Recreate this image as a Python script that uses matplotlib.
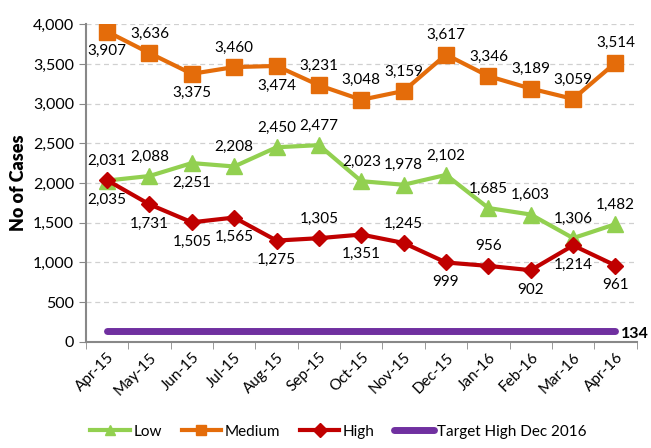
import matplotlib
matplotlib.use("Agg")
import matplotlib.pyplot as plt
import numpy as np

months = ["Apr-15", "May-15", "Jun-15", "Jul-15", "Aug-15", "Sep-15", "Oct-15",
          "Nov-15", "Dec-15", "Jan-16", "Feb-16", "Mar-16", "Apr-16"]
low = [2031, 2088, 2251, 2208, 2450, 2477, 2023, 1978, 2102, 1685, 1603, 1306, 1482]
medium = [3907, 3636, 3375, 3460, 3474, 3231, 3048, 3159, 3617, 3346, 3189, 3059, 3514]
high = [2035, 1731, 1505, 1565, 1275, 1305, 1351, 1245, 999, 956, 902, 1214, 961]
target = [134] * 13

# label placement: 1 = above, -1 = below
low_pos = [1, 1, -1, 1, 1, 1, 1, 1, 1, 1, 1, 1, 1]
med_pos = [-1, 1, -1, 1, -1, 1, 1, 1, 1, 1, 1, 1, 1]
high_pos = [-1, -1, -1, -1, -1, 1, -1, 1, -1, 1, -1, -1, -1]

plt.rcParams['font.family'] = ['Lato', 'DejaVu Sans']

fig = plt.figure(figsize=(6.51, 4.48), dpi=100)
ax = fig.add_axes([0.132, 0.237, 0.846, 0.709])
x = np.arange(len(months))

c_low, c_med, c_high, c_tgt = "#92D050", "#E46C0A", "#C00000", "#7030A0"

ax.plot(x, low, color=c_low, lw=3, marker="^", ms=11, label="Low", zorder=3)
ax.plot(x, medium, color=c_med, lw=3, marker="s", ms=11, label="Medium", zorder=3)
ax.plot(x, high, color=c_high, lw=3, marker="D", ms=8, label="High", zorder=4)
ax.plot(x, target, color=c_tgt, lw=5, solid_capstyle="round", label="Target High Dec 2016", zorder=3)

def annotate(vals, pos):
    for xi, v, p in zip(x, vals, pos):
        ax.annotate(f"{v:,}", (xi, v), xytext=(0, 14 * p), textcoords="offset points",
                    ha="center", va="center", fontsize=11, color="black", zorder=5)

annotate(low, low_pos)
annotate(medium, med_pos)
annotate(high, high_pos)
ax.annotate(f"{target[-1]}", (x[-1], target[-1]), xytext=(4, -2), textcoords="offset points",
            ha="left", va="center", fontsize=11.5, fontweight="bold")

ax.set_xlim(-0.5, 12.5)
ax.set_ylim(0, 4000)
ax.set_yticks(np.arange(0, 4001, 500))
ax.set_yticklabels([f"{v:,}" for v in range(0, 4001, 500)], fontsize=11.5)
ax.set_xticks(x)
ax.set_xticklabels(months, rotation=45, ha="right", rotation_mode="anchor", fontsize=11)
ax.tick_params(axis="x", length=0, pad=6)
ax.set_xticks(np.arange(-0.5, 13, 1), minor=True)
ax.tick_params(axis="x", which="minor", length=5, color="#888888")
ax.tick_params(axis="y", length=5, color="#888888")
ax.grid(axis="y", color="#d0d0d0", linestyle=(0, (4, 3)), lw=0.9)
ax.set_axisbelow(True)
for s in ["top", "right"]:
    ax.spines[s].set_visible(False)
for s in ["left", "bottom"]:
    ax.spines[s].set_color("#888888")
    ax.spines[s].set_linewidth(1.5)
ax.set_ylabel("No of Cases", fontsize=13, fontweight="heavy", labelpad=4)

leg = fig.legend(loc="lower center", bbox_to_anchor=(0.52, -0.01), ncol=4, frameon=False,
                 fontsize=11, handlelength=2.6, columnspacing=1.3, handletextpad=0.2)
for h in leg.legend_handles:
    h.set_markersize(7)

fig.savefig("out.png", dpi=100)
